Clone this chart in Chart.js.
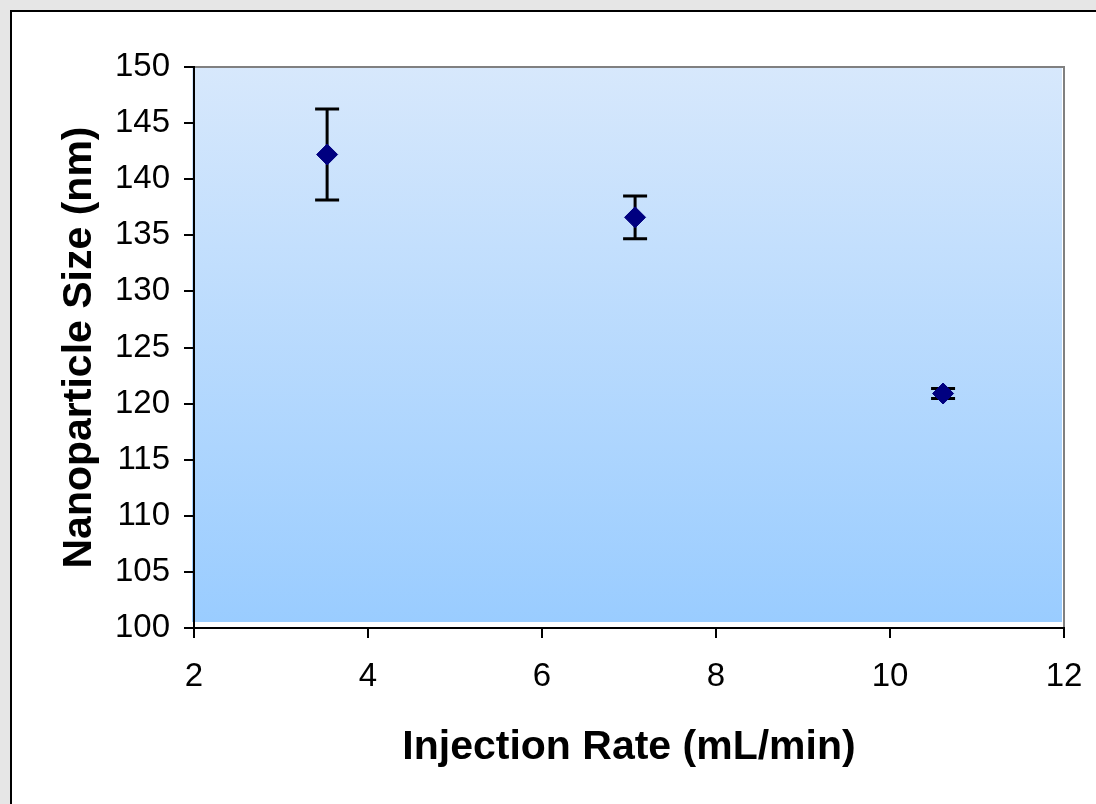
<!DOCTYPE html>
<html>
<head>
<meta charset="utf-8">
<script src="https://cdn.jsdelivr.net/npm/chart.js@4/dist/chart.umd.min.js"></script>
<style>
  html, body { margin: 0; padding: 0; }
  body { width: 1096px; height: 804px; background: #e6e6e6; position: relative; overflow: hidden; }
  #frame { position: absolute; left: 10px; top: 10px; width: 1100px; height: 800px; background: #ffffff; border-left: 2px solid #000; border-top: 2px solid #000; box-sizing: border-box; }
  #c { position: absolute; left: 0; top: 0; }
</style>
</head>
<body>
<div id="frame"></div>
<canvas id="c" width="1096" height="804"></canvas>
<script>
// ---- data ----
const injectionRate = [3.53, 7.07, 10.61];      // mL/min
const particleSize  = [142.2, 136.6, 120.9];    // nm
const sizeError     = [4.05, 1.9, 0.45];        // +/- nm
const xTitle = 'Injection Rate (mL/min)';
const yTitle = 'Nanoparticle Size (nm)';
const xRange = [2, 12, 2];       // min, max, step
const yRange = [100, 150, 5];    // min, max, step

const FONT = "'Liberation Sans', Arial, Helvetica, sans-serif";

const plotBg = {
  id: 'plotBg',
  beforeDraw(chart) {
    const {ctx, chartArea: a} = chart;
    ctx.save();
    const g = ctx.createLinearGradient(0, a.top, 0, a.bottom);
    g.addColorStop(0, '#d7e8fc');
    g.addColorStop(1, '#99ccff');
    ctx.fillStyle = g;
    ctx.fillRect(a.left - 2, a.top, a.right - a.left, a.bottom - a.top - 6);
    ctx.strokeStyle = '#808080';
    ctx.lineWidth = 2;
    ctx.beginPath();
    ctx.moveTo(a.left, a.top);
    ctx.lineTo(a.right, a.top);
    ctx.lineTo(a.right, a.bottom);
    ctx.stroke();
    ctx.restore();
  }
};

const errorBars = {
  id: 'errorBars',
  beforeDatasetsDraw(chart) {
    const {ctx, scales: {x, y}} = chart;
    ctx.save();
    ctx.strokeStyle = '#000';
    ctx.lineWidth = 3;
    for (let i = 0; i < injectionRate.length; i++) {
      const px = x.getPixelForValue(injectionRate[i]);
      const top = y.getPixelForValue(particleSize[i] + sizeError[i]);
      const bot = y.getPixelForValue(particleSize[i] - sizeError[i]);
      ctx.beginPath();
      ctx.moveTo(px, top); ctx.lineTo(px, bot);
      ctx.moveTo(px - 12, top); ctx.lineTo(px + 12, top);
      ctx.moveTo(px - 12, bot); ctx.lineTo(px + 12, bot);
      ctx.stroke();
    }
    ctx.restore();
  }
};

new Chart(document.getElementById('c'), {
  type: 'scatter',
  data: {
    datasets: [{
      data: injectionRate.map((v, i) => ({x: v, y: particleSize[i]})),
      pointStyle: 'rectRot',
      pointRadius: 10.5,
      pointHoverRadius: 10.5,
      backgroundColor: '#000080',
      borderColor: '#000080',
      borderWidth: 1
    }]
  },
  options: {
    responsive: false,
    animation: false,
    devicePixelRatio: 1,
    layout: { padding: { left: 0, top: 67, right: 32, bottom: 0 }, autoPadding: false },
    plugins: { legend: { display: false }, tooltip: { enabled: false } },
    scales: {
      x: {
        type: 'linear',
        min: xRange[0], max: xRange[1],
        afterFit(s) { s.height = 176; s.paddingLeft = 0; s.paddingRight = 0; },
        ticks: { stepSize: xRange[2], color: '#000', padding: 19, font: { family: FONT, size: 33 } },
        grid: { drawOnChartArea: false, drawTicks: true, tickLength: 10, color: '#000', lineWidth: 2 },
        border: { display: true, color: '#000', width: 2 },
        title: { display: true, text: xTitle, color: '#000', padding: { top: 0, bottom: 32 }, font: { family: FONT, size: 41, weight: 'bold', lineHeight: 1.2 } }
      },
      y: {
        type: 'linear',
        min: yRange[0], max: yRange[1],
        afterFit(s) { s.width = 194; s.paddingTop = 0; s.paddingBottom = 0; },
        ticks: { stepSize: yRange[2], color: '#000', padding: 14, font: { family: FONT, size: 33 } },
        grid: { drawOnChartArea: false, drawTicks: true, tickLength: 10, color: '#000', lineWidth: 2 },
        border: { display: true, color: '#000', width: 2 },
        title: { display: true, text: yTitle, color: '#000', padding: { top: 55, bottom: 0 }, font: { family: FONT, size: 41, weight: 'bold', lineHeight: 1.2 } }
      }
    }
  },
  plugins: [plotBg, errorBars]
});
</script>
</body>
</html>
